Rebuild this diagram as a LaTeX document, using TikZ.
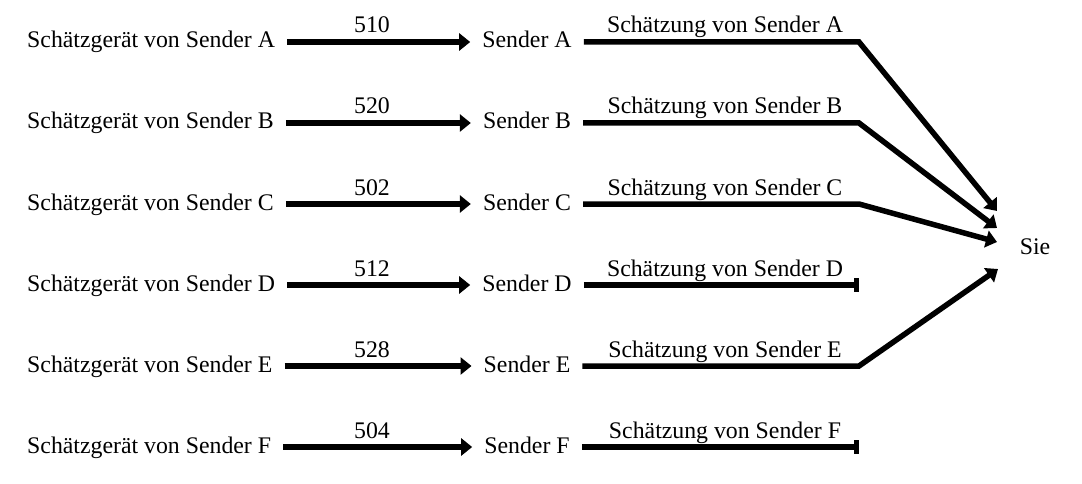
\documentclass[tikz,border=0pt]{standalone}
\usepackage{fontspec}
\setmainfont{Liberation Serif}
\usetikzlibrary{arrows.meta}
\begin{document}
\begin{tikzpicture}[x=1pt,y=-1pt,
  lbl/.style={inner sep=0pt,text height=16pt,text depth=4pt,font=\fontsize{23.8}{28}\selectfont},
  num/.style={inner sep=0pt,anchor=base,font=\fontsize{23.8}{28}\selectfont},
  conn/.style={line width=5.5pt},
  flow/.style={conn,-{Triangle[length=11pt,width=17pt]}},
  stop/.style={conn,-{Bar[width=14pt]}}]
\useasboundingbox (0,0) rectangle (1082,484);

% rows: source estimator -> sender -> estimate
\foreach \r/\y/\v in {A/42/510,B/123/520,C/204/502,D/285/512,E/366/528,F/447/504}{
  \node[lbl,anchor=west] (g\r) at (27,\y) {Schätzgerät von Sender \r};
  \node[lbl] (s\r) at (527,\y) {Sender \r};
  \coordinate (k\r) at (859,\y);
  \draw[flow,shorten <=12pt,shorten >=12pt] (g\r.east) -- (s\r.west);
  \node[num] (n\r) at (372,\y-9) {\v};
  \node[num] (e\r) at (725,\y-9) {Schätzung von Sender \r};
}

\node[lbl] (sie) at (1035,248) {Sie};
\coordinate (tA) at (997,211);
\coordinate (tB) at (997,228);
\coordinate (tC) at (997,242);
\coordinate (tE) at (998,269);

\draw[flow,shorten <=12pt] (sA.east) -- (kA) -- (tA);
\draw[flow,shorten <=12pt] (sB.east) -- (kB) -- (tB);
\draw[flow,shorten <=12pt] (sC.east) -- (kC) -- (tC);
\draw[flow,shorten <=12pt] (sE.east) -- (kE) -- (tE);
\draw[stop,shorten <=12pt] (sD.east) -- (kD);
\draw[stop,shorten <=12pt] (sF.east) -- (kF);
\end{tikzpicture}
\end{document}
